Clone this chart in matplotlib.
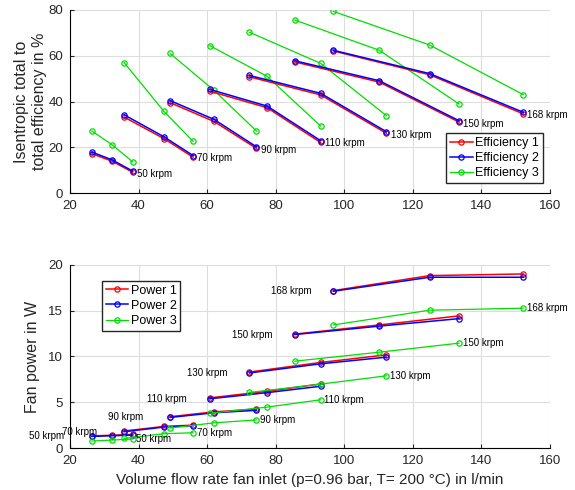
import matplotlib
matplotlib.use('Agg')
from matplotlib import pyplot as plt

plt.rcParams['font.family'] = ['Liberation Sans', 'DejaVu Sans']

speeds = ['50 krpm', '70 krpm', '90 krpm', '110 krpm', '130 krpm', '150 krpm', '168 krpm']

# volume flow rate per speed line (l/min)
flow = [
    [26.4, 32.3, 38.3],
    [35.8, 47.4, 55.9],
    [49.2, 62.0, 74.4],
    [60.8, 77.5, 93.1],
    [72.3, 93.1, 112.3],
    [85.6, 110.2, 133.5],
    [96.8, 124.9, 152.2],
]

eff1 = [
    [17.2, 13.9, 9.1],
    [33.2, 23.8, 15.7],
    [39.5, 31.3, 19.5],
    [44.5, 37.3, 22.1],
    [50.8, 42.9, 26.1],
    [57.3, 48.5, 31.0],
    [62.1, 51.7, 34.6],
]
eff2 = [
    [17.9, 14.5, 9.6],
    [34.2, 24.6, 16.4],
    [40.4, 32.2, 20.2],
    [45.3, 38.0, 22.9],
    [51.4, 43.6, 26.8],
    [57.8, 49.1, 31.6],
    [62.4, 52.2, 35.3],
]
eff3 = [
    [27.1, 21.1, 13.6],
    [57.0, 35.7, 22.6],
    [61.0, 44.9, 27.1],
    [64.4, 51.0, 29.3],
    [70.3, 56.7, 33.8],
    [75.6, 62.4, 38.9],
    [79.4, 64.7, 43.0],
]

pow1 = [
    [1.32, 1.40, 1.48],
    [1.86, 2.36, 2.50],
    [3.42, 3.95, 4.25],
    [5.48, 6.20, 7.00],
    [8.30, 9.35, 10.18],
    [12.45, 13.45, 14.44],
    [17.20, 18.84, 19.02],
]
pow2 = [
    [1.27, 1.34, 1.41],
    [1.78, 2.29, 2.43],
    [3.34, 3.85, 4.12],
    [5.38, 6.05, 6.75],
    [8.20, 9.20, 9.93],
    [12.40, 13.32, 14.14],
    [17.13, 18.66, 18.66],
]
pow3 = [
    [0.76, 0.87, 0.98],
    [1.05, 1.56, 1.67],
    [2.18, 2.75, 3.07],
    [3.80, 4.47, 5.27],
    [6.07, 6.98, 7.89],
    [9.49, 10.47, 11.46],
    [13.45, 15.06, 15.28],
]

fig = plt.figure(figsize=(5.75, 4.9), dpi=100)
ax1 = fig.add_axes([0.1217, 0.606, 0.8348, 0.3736])
ax2 = fig.add_axes([0.1217, 0.0857, 0.8348, 0.3735])

colors = ['#ff0000', '#0000ff', '#00dd00']
mk = dict(marker='o', markersize=3.8, markerfacecolor='none', markeredgewidth=0.9)
leg_kw = dict(fontsize=9, fancybox=False, edgecolor='#262626', framealpha=1, handlelength=1.8,
              handletextpad=0.2, borderpad=0.3, labelspacing=0.25, borderaxespad=0)


def style(ax):
    ax.set_xlim(20, 160)
    ax.grid(True, color='#dddddd', linewidth=0.8)
    ax.set_axisbelow(True)
    for s in ['top', 'right']:
        ax.spines[s].set_visible(False)
    ax.tick_params(direction='in', length=3, labelsize=9.5, colors='#262626', pad=5)
    ax.set_xticks(range(20, 161, 20))


# efficiency
for i in range(len(speeds)):
    lab = i == 0
    ax1.plot(flow[i], eff1[i], color=colors[0], lw=1.1, label='Efficiency 1' if lab else None, **mk)
    ax1.plot(flow[i], eff2[i], color=colors[1], lw=1.1, label='Efficiency 2' if lab else None, **mk)
    ax1.plot(flow[i], eff3[i], color=colors[2], lw=0.9, label='Efficiency 3' if lab else None, **mk)
    ax1.annotate(speeds[i], (flow[i][-1], eff2[i][-1]), xytext=(3, -2), textcoords='offset points',
                 fontsize=7, va='center', ha='left')
style(ax1)
ax1.set_ylim(0, 80)
ax1.set_yticks(range(0, 81, 20))
ax1.set_ylabel('Isentropic total to\ntotal efficiency in %', fontsize=11.5, color='#262626', labelpad=1)
ax1.legend(loc='lower right', bbox_to_anchor=(0.985, 0.055), **leg_kw)

# power
for i in range(len(speeds)):
    lab = i == 0
    ax2.plot(flow[i], pow1[i], color=colors[0], lw=1.1, label='Power 1' if lab else None, **mk)
    ax2.plot(flow[i], pow2[i], color=colors[1], lw=1.1, label='Power 2' if lab else None, **mk)
    ax2.plot(flow[i], pow3[i], color=colors[2], lw=0.9, label='Power 3' if lab else None, **mk)
    ax2.annotate(speeds[i], (flow[i][0], pow2[i][0]), xytext=(-45, 0), textcoords='offset points',
                 fontsize=7, va='center', ha='left')
    ax2.annotate(speeds[i], (flow[i][-1], pow3[i][-1]), xytext=(2.5, 0), textcoords='offset points',
                 fontsize=7, va='center', ha='left')
style(ax2)
ax2.set_ylim(0, 20)
ax2.set_yticks(range(0, 21, 5))
ax2.set_ylabel('Fan power in W', fontsize=11.5, color='#262626', labelpad=6)
ax2.set_xlabel('Volume flow rate fan inlet (p=0.96 bar, T= 200 \u00b0C) in l/min', fontsize=11,
               color='#262626')
ax2.legend(loc='upper left', bbox_to_anchor=(0.0667, 0.913), **leg_kw)

fig.savefig('out.png', dpi=100)
